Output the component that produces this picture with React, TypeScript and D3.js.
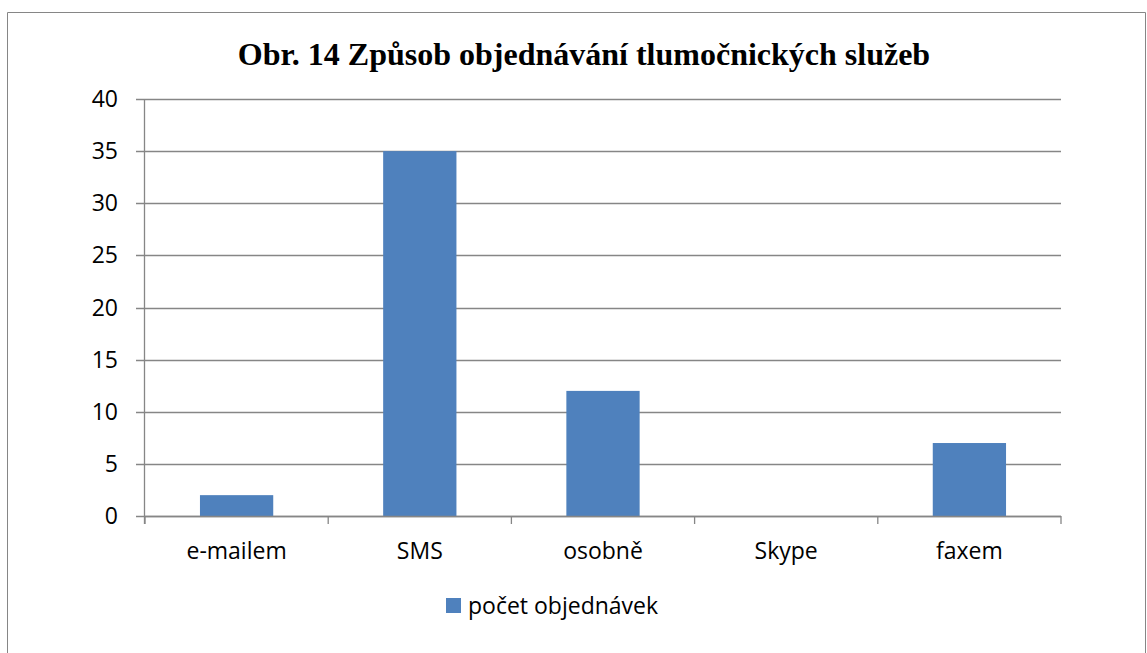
import { useEffect, useRef } from 'react';
import * as d3 from 'd3';

// chart data
const categories = ['e-mailem', 'SMS', 'osobně', 'Skype', 'faxem'];
const values = [2, 35, 12, 0, 7];
const yTicks = [0, 5, 10, 15, 20, 25, 30, 35, 40];
const seriesName = 'počet objednávek';
const titleText = 'Obr. 14 Způsob objednávání tlumočnických služeb';

const W = 1147;
const H = 653;

const App = () => {
    const svgRef = useRef<SVGSVGElement>(null);

    useEffect(() => {
        const svg = d3.select(svgRef.current);
        svg.selectAll('*').remove();

        const margin = { top: 99, right: 86, bottom: 137, left: 145 };
        const innerW = W - margin.left - margin.right;
        const innerH = H - margin.top - margin.bottom;
        const font = '"Open Sans", "Noto Sans", sans-serif';
        const fontSize = '23px';
        const gridColor = '#868686';
        const barColor = '#4F81BD';

        // outer frame
        svg.append('path')
            .attr('d', `M7.5,${H} V12.5 H1145.5 V${H}`)
            .attr('fill', 'none')
            .attr('stroke', gridColor)
            .attr('stroke-width', 1);

        // title
        svg.append('text')
            .attr('x', 584)
            .attr('y', 65)
            .attr('text-anchor', 'middle')
            .style('font-family', '"Liberation Serif", "Times New Roman", serif')
            .style('font-weight', 'bold')
            .style('font-size', '32px')
            .text(titleText);

        const g = svg.append('g')
            .attr('transform', `translate(${margin.left},${margin.top})`);

        const x = d3.scaleBand()
            .domain(categories)
            .range([0, innerW])
            .paddingInner(0.6)
            .paddingOuter(0.3);

        const y = d3.scaleLinear()
            .domain([0, 40])
            .range([innerH, 0]);

        // gridlines + y ticks
        g.append('g')
            .selectAll('line')
            .data(yTicks)
            .join('line')
            .attr('x1', -9)
            .attr('x2', innerW)
            .attr('y1', d => Math.round(y(d)) + 0.5)
            .attr('y2', d => Math.round(y(d)) + 0.5)
            .attr('stroke', gridColor)
            .attr('stroke-width', 1.3);

        g.append('g')
            .selectAll('text')
            .data(yTicks)
            .join('text')
            .attr('x', -27)
            .attr('y', d => y(d))
            .attr('dy', '0.35em')
            .attr('text-anchor', 'end')
            .style('font-family', font)
            .style('font-size', fontSize)
            .attr('fill', '#000')
            .text(d => d);

        // bars
        g.append('g')
            .selectAll('rect')
            .data(values)
            .join('rect')
            .attr('x', (d, i) => x(categories[i]))
            .attr('y', d => y(d))
            .attr('width', x.bandwidth())
            .attr('height', d => innerH - y(d))
            .attr('fill', barColor);

        // y axis line
        g.append('line')
            .attr('x1', -0.5)
            .attr('x2', -0.5)
            .attr('y1', 0)
            .attr('y2', innerH + 8)
            .attr('stroke', gridColor)
            .attr('stroke-width', 1.3);

        // x axis line and ticks
        const step = innerW / categories.length;
        g.append('line')
            .attr('x1', 0)
            .attr('x2', innerW)
            .attr('y1', innerH + 0.5)
            .attr('y2', innerH + 0.5)
            .attr('stroke', gridColor)
            .attr('stroke-width', 1.3);

        g.append('g')
            .selectAll('line')
            .data(d3.range(categories.length + 1))
            .join('line')
            .attr('x1', d => d * step)
            .attr('x2', d => d * step)
            .attr('y1', innerH)
            .attr('y2', innerH + 8)
            .attr('stroke', gridColor)
            .attr('stroke-width', 1.3);

        // category labels
        g.append('g')
            .selectAll('text')
            .data(categories)
            .join('text')
            .attr('x', d => x(d) + x.bandwidth() / 2)
            .attr('y', innerH + 35)
            .attr('dy', '0.35em')
            .attr('text-anchor', 'middle')
            .style('font-family', font)
            .style('font-size', fontSize)
            .attr('fill', '#000')
            .text(d => d);

        // legend
        const legend = svg.append('g').attr('transform', 'translate(446,598)');
        legend.append('rect')
            .attr('width', 15)
            .attr('height', 15)
            .attr('fill', barColor);
        legend.append('text')
            .attr('x', 22)
            .attr('y', 8)
            .attr('dy', '0.35em')
            .style('font-family', font)
            .style('font-size', fontSize)
            .attr('fill', '#000')
            .text(seriesName);
    }, []);

    return (
        <svg
            ref={svgRef}
            width={W}
            height={H}
            style={{ position: 'absolute', left: 0, top: 0, background: '#fff' }}
        />
    );
};

export default App;
